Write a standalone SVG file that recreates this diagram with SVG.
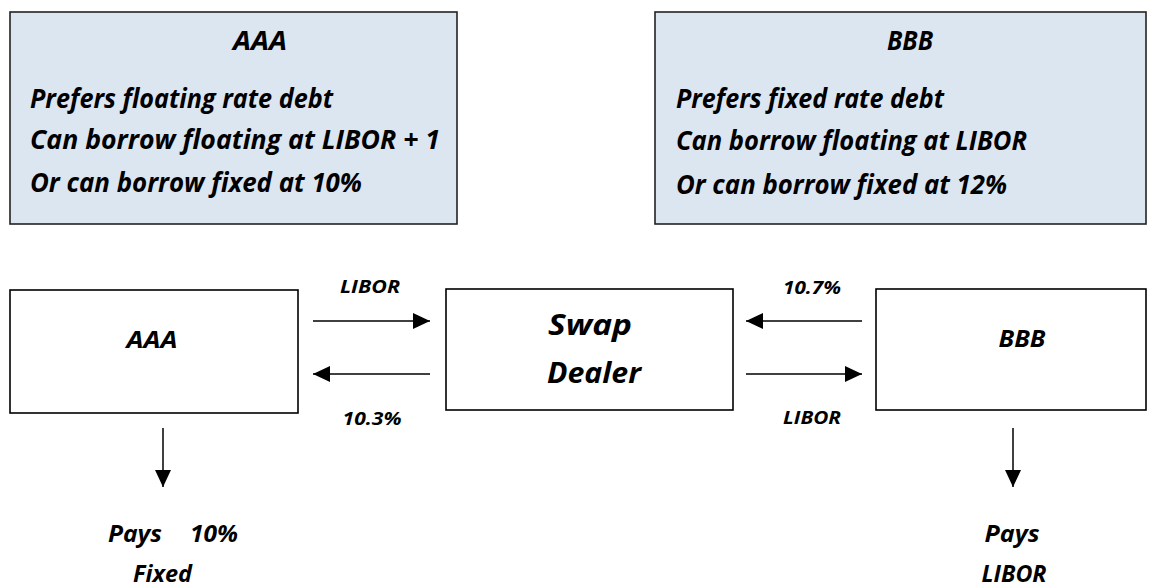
<svg xmlns="http://www.w3.org/2000/svg" width="1156" height="587" viewBox="0 0 1156 587">
<style>
text{font-family:"Open Sans","Liberation Sans",sans-serif;font-weight:bold;font-style:italic;fill:#000}
.info{fill:#dce6f1;stroke:#222;stroke-width:1.6}
.box{fill:#fff;stroke:#000;stroke-width:1.6}
.big{font-size:26px}
.xl{font-size:29px}
.mid{font-size:23px}
.out{font-size:24px}
.sm{font-size:18px}
.c{text-anchor:middle}
.ln{stroke:#000;stroke-width:1.5;fill:none;marker-end:url(#ah)}
</style>
<defs>
<marker id="ah" markerUnits="userSpaceOnUse" markerWidth="18" markerHeight="16" refX="17" refY="8" orient="auto">
<path d="M0,0 L17,8 L0,16 Z" fill="#000"/>
</marker>
</defs>
<g id="info-aaa">
<rect class="info" x="10" y="12" width="447" height="212"/>
<text class="big c" x="260" y="50" textLength="54" lengthAdjust="spacingAndGlyphs">AAA</text>
<text class="big" x="30" y="108" textLength="303" lengthAdjust="spacingAndGlyphs">Prefers floating rate debt</text>
<text class="big" x="30" y="149" textLength="410" lengthAdjust="spacingAndGlyphs">Can borrow floating at LIBOR + 1</text>
<text class="big" x="30" y="192" textLength="332" lengthAdjust="spacingAndGlyphs">Or can borrow fixed at 10%</text>
</g>
<g id="info-bbb">
<rect class="info" x="655" y="12" width="491" height="212"/>
<text class="big c" x="910" y="50" textLength="46" lengthAdjust="spacingAndGlyphs">BBB</text>
<text class="big" x="676" y="108" textLength="268" lengthAdjust="spacingAndGlyphs">Prefers fixed rate debt</text>
<text class="big" x="676" y="150" textLength="351" lengthAdjust="spacingAndGlyphs">Can borrow floating at LIBOR</text>
<text class="big" x="676" y="194" textLength="331" lengthAdjust="spacingAndGlyphs">Or can borrow fixed at 12%</text>
</g>
<g id="node-aaa">
<rect class="box" x="10" y="290" width="288" height="123"/>
<text class="mid c" x="152" y="348" textLength="51" lengthAdjust="spacingAndGlyphs">AAA</text>
</g>
<g id="node-dealer">
<rect class="box" x="446" y="289" width="287" height="121"/>
<text class="xl c" x="590" y="335" textLength="84" lengthAdjust="spacingAndGlyphs">Swap</text>
<text class="xl c" x="594" y="383" textLength="94" lengthAdjust="spacingAndGlyphs">Dealer</text>
</g>
<g id="node-bbb">
<rect class="box" x="876" y="289" width="270" height="121"/>
<text class="mid c" x="1022" y="347" textLength="47" lengthAdjust="spacingAndGlyphs">BBB</text>
</g>
<g id="connectors">
<line class="ln" x1="313" y1="321" x2="430" y2="321"/>
<line class="ln" x1="430" y1="374" x2="313" y2="374"/>
<line class="ln" x1="862" y1="321" x2="746" y2="321"/>
<line class="ln" x1="746" y1="374" x2="862" y2="374"/>
<line class="ln" x1="163" y1="428" x2="163" y2="487"/>
<line class="ln" x1="1013" y1="428" x2="1013" y2="487"/>
<text class="sm c" x="370" y="293" textLength="60" lengthAdjust="spacingAndGlyphs">LIBOR</text>
<text class="sm c" x="372" y="425" textLength="59" lengthAdjust="spacingAndGlyphs">10.3%</text>
<text class="sm c" x="812" y="294" textLength="58" lengthAdjust="spacingAndGlyphs">10.7%</text>
<text class="sm c" x="812" y="424" textLength="58" lengthAdjust="spacingAndGlyphs">LIBOR</text>
</g>
<g id="outcomes">
<text class="out" x="108" y="542" textLength="54" lengthAdjust="spacingAndGlyphs">Pays</text>
<text class="out" x="190" y="542" textLength="48" lengthAdjust="spacingAndGlyphs">10%</text>
<text class="out" x="133" y="582" textLength="59" lengthAdjust="spacingAndGlyphs">Fixed</text>
<text class="out c" x="1012" y="542" textLength="55" lengthAdjust="spacingAndGlyphs">Pays</text>
<text class="out c" x="1014" y="582" textLength="65" lengthAdjust="spacingAndGlyphs">LIBOR</text>
</g>
</svg>
